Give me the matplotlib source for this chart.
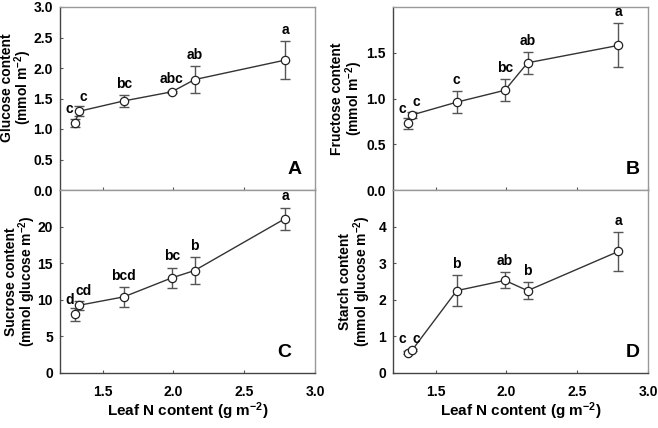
import matplotlib
matplotlib.use("Agg")
import matplotlib.pyplot as plt

plt.rcParams['font.family'] = ['Liberation Sans', 'DejaVu Sans']
plt.rcParams['font.weight'] = 'bold'
plt.rcParams['mathtext.fontset'] = 'custom'
plt.rcParams['mathtext.rm'] = 'Liberation Sans:bold'
plt.rcParams['mathtext.bf'] = 'Liberation Sans:bold'
plt.rcParams['mathtext.default'] = 'bf'

leaf_n = [1.306, 1.334, 1.65, 1.99, 2.15, 2.79]

glucose = [1.10, 1.29, 1.46, 1.61, 1.81, 2.13]
glucose_se = [0.07, 0.08, 0.10, 0.02, 0.22, 0.31]
glucose_sig = ['c', 'c', 'bc', 'abc', 'ab', 'a']

fructose = [0.73, 0.82, 0.96, 1.09, 1.39, 1.58]
fructose_se = [0.06, 0.03, 0.12, 0.12, 0.12, 0.24]
fructose_sig = ['c', 'c', 'c', 'bc', 'ab', 'a']

sucrose = [8.0, 9.25, 10.4, 13.0, 14.0, 21.1]
sucrose_se = [0.85, 0.6, 1.35, 1.4, 1.8, 1.5]
sucrose_sig = ['d', 'cd', 'bcd', 'bc', 'b', 'a']

starch = [0.56, 0.62, 2.25, 2.53, 2.25, 3.32]
starch_se = [0.03, 0.03, 0.42, 0.22, 0.23, 0.53]
starch_sig = ['c', 'c', 'b', 'ab', 'b', 'a']

fig = plt.figure(figsize=(6.58, 4.28), dpi=100)
W, H = 658, 428

def axes_px(l, r, t, b):
    return fig.add_axes([l / W, 1 - b / H, (r - l) / W, (b - t) / H])

axA = axes_px(60, 315, 7, 190)
axB = axes_px(393, 648, 7, 190)
axC = axes_px(60, 315, 190, 373)
axD = axes_px(393, 648, 190, 373)

panels = [
    (axA, glucose, glucose_se, glucose_sig, 'Glucose content\n(mmol m$^{-2}$)',
     (0, 3.0), [0, 0.5, 1.0, 1.5, 2.0, 2.5, 3.0], '{:.1f}', 'A', 0.92, -0.10, 0.56),
    (axB, fructose, fructose_se, fructose_sig, 'Fructose content\n(mmol m$^{-2}$)',
     (0, 2.0), [0, 0.5, 1.0, 1.5], '{:.1f}', 'B', 0.94, -0.11, 0.5),
    (axC, sucrose, sucrose_se, sucrose_sig, 'Sucrose content\n(mmol glucose m$^{-2}$)',
     (0, 25), [0, 5, 10, 15, 20], '{:d}', 'C', 0.88, -0.085, 0.5),
    (axD, starch, starch_se, starch_sig, 'Starch content\n(mmol glucose m$^{-2}$)',
     (0, 5), [0, 1, 2, 3, 4], '{:d}', 'D', 0.94, -0.08, 0.5),
]

for i, (ax, vals, se, sig, ylab, ylim, yticks, fmt, letter, lx, ylx, yly) in enumerate(panels):
    ax.errorbar(leaf_n, vals, yerr=se, fmt='none', ecolor='#555555',
                elinewidth=1.0, capsize=3.5, capthick=1.0, zorder=2)
    ax.plot(leaf_n, vals, '-', color='#333333', lw=1.0, marker='o',
            markersize=6, markerfacecolor='white', markeredgecolor='#222222',
            markeredgewidth=0.9, zorder=3)
    for j, (x, v, e, s) in enumerate(zip(leaf_n, vals, se, sig)):
        if j == 0:
            ax.annotate(s, (x, v), xytext=(-4, 5), textcoords='offset points',
                        ha='center', va='bottom', fontsize=10, fontweight='bold')
        elif j == 1:
            ax.annotate(s, (x, v + e), xytext=(3, 2), textcoords='offset points',
                        ha='center', va='bottom', fontsize=10, fontweight='bold')
        else:
            ax.annotate(s, (x, v + e), xytext=(0, 3), textcoords='offset points',
                        ha='center', va='bottom', fontsize=10, fontweight='bold')
    ax.set_xlim(1.2, 3.0)
    ax.set_ylim(*ylim)
    ax.set_yticks(yticks)
    ax.set_yticklabels([fmt.format(t) if fmt == '{:.1f}' else fmt.format(int(t)) for t in yticks])
    ax.set_xticks([1.5, 2.0, 2.5, 3.0])
    ax.tick_params(direction='in', length=2, width=0.8, colors='#555555',
                   labelcolor='black', labelsize=10, pad=5)
    ax.tick_params(axis='x', pad=9)
    for lab in ax.get_yticklabels() + ax.get_xticklabels():
        lab.set_fontweight('bold')
    ax.set_ylabel(ylab, fontsize=10, fontweight='bold', linespacing=0.95)
    ax.yaxis.set_label_coords(ylx, yly)
    ax.text(lx, 0.11, letter, transform=ax.transAxes, ha='center', va='center',
            fontsize=14, fontweight='bold')
    ax.spines['left'].set_color('#444444')
    ax.spines['bottom'].set_color('#444444')
    ax.spines['top'].set_color('#999999')
    ax.spines['right'].set_color('#999999')
    for sp in ax.spines.values():
        sp.set_linewidth(1.0)

for ax in (axA, axB):
    ax.tick_params(axis='x', labelbottom=False)
    ax.spines['bottom'].set_color('#999999')

for ax in (axC, axD):
    ax.set_xlabel('Leaf N content (g m$^{-2}$)', fontsize=11, fontweight='bold', labelpad=1)
    ax.set_xticklabels(['1.5', '2.0', '2.5', '3.0'])
    for lab in ax.get_xticklabels():
        lab.set_fontweight('bold')

fig.savefig('out.png', dpi=100)
